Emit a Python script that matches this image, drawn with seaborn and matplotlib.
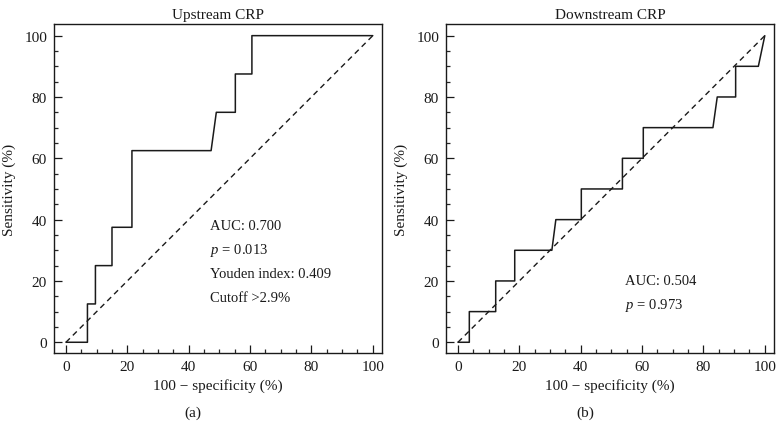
import numpy as np
import pandas as pd
import matplotlib
matplotlib.use("Agg")
import matplotlib.pyplot as plt
import seaborn as sns
from matplotlib.ticker import MultipleLocator

# Data (ROC curve vertices)
up_fpr = [0, 7, 7, 9.6, 9.6, 15, 15, 21.5, 21.5, 47.3, 49.0, 55.2, 55.2, 60.6, 60.6, 100]
up_tpr = [0, 0, 12.5, 12.5, 25, 25, 37.5, 37.5, 62.5, 62.5, 75, 75, 87.5, 87.5, 100, 100]

down_fpr = [0, 3.7, 3.7, 12.3, 12.3, 18.5, 18.5, 30.6, 31.9, 40.2, 40.2, 53.6, 53.6,
            60.4, 60.4, 83.1, 84.5, 90.5, 90.5, 97.9, 100]
down_tpr = [0, 0, 10, 10, 20, 20, 30, 30, 40, 40, 50, 50, 60,
            60, 70, 70, 80, 80, 90, 90, 100]

titles = ["Upstream CRP", "Downstream CRP"]
panel_labels = ["(a)", "(b)"]
up_notes = ["AUC: 0.700", r"$p$ = 0.013", "Youden index: 0.409", "Cutoff >2.9%"]
down_notes = ["AUC: 0.504", r"$p$ = 0.973"]
ticks = [0, 20, 40, 60, 80, 100]

sns.set_theme(style="ticks")
plt.rcParams["font.family"] = ["Liberation Serif", "DejaVu Serif"]
plt.rcParams["mathtext.fontset"] = "custom"
plt.rcParams["mathtext.it"] = "Liberation Serif:italic"
plt.rcParams["mathtext.rm"] = "Liberation Serif"

W, H = 783, 439
fig = plt.figure(figsize=(W / 100, H / 100), dpi=100)

axes_px = [(54, 25, 382, 354), (446, 25, 774, 354)]
datasets = [(up_fpr, up_tpr, up_notes, (47.1, [38.1, 30.3, 22.4, 14.5])),
            (down_fpr, down_tpr, down_notes, (54.6, [20.1, 12.3]))]

for i, ((x0, y0, x1, y1), (fx, ty, notes, (tx, tys))) in enumerate(zip(axes_px, datasets)):
    ax = fig.add_axes([x0 / W, 1 - y1 / H, (x1 - x0) / W, (y1 - y0) / H])
    df = pd.DataFrame({"fpr": fx, "tpr": ty})
    sns.lineplot(data=df, x="fpr", y="tpr", sort=False, estimator=None,
                 color="#1a1a1a", lw=1.1, ax=ax)
    diag = pd.DataFrame({"x": [0, 100], "y": [0, 100]})
    sns.lineplot(data=diag, x="x", y="y", sort=False, estimator=None,
                 color="#1a1a1a", lw=1.0, ax=ax, linestyle=(0, (4, 3)))
    ax.set_xlim(-3.9, 103)
    ax.set_ylim(-3.5, 103.8)
    ax.set_xticks(ticks)
    ax.set_yticks(ticks)
    ax.xaxis.set_minor_locator(MultipleLocator(5))
    ax.yaxis.set_minor_locator(MultipleLocator(5))
    ax.tick_params(which="major", direction="in", length=5.5, width=0.9, labelsize=11,
                   colors="#1a1a1a", pad=5)
    ax.tick_params(which="minor", direction="in", length=3, width=0.9)
    for s in ax.spines.values():
        s.set_linewidth(1.0)
        s.set_color("#1a1a1a")
    ax.set_xlabel("100 − specificity (%)", fontsize=11, color="#1a1a1a", labelpad=4)
    ax.set_ylabel("Sensitivity (%)", fontsize=11, color="#1a1a1a", labelpad=6)
    ax.set_title(titles[i], fontsize=11, color="#1a1a1a", pad=4)
    for note, yy in zip(notes, tys):
        ax.text(tx, yy, note, fontsize=10.5, color="#1a1a1a", va="center", ha="left")
    cx = (x0 + x1) / 2 - 25
    fig.text(cx / W, 1 - 413 / H, panel_labels[i], fontsize=11, ha="center",
             va="center", color="#1a1a1a")

fig.savefig("out.png", dpi=100)
